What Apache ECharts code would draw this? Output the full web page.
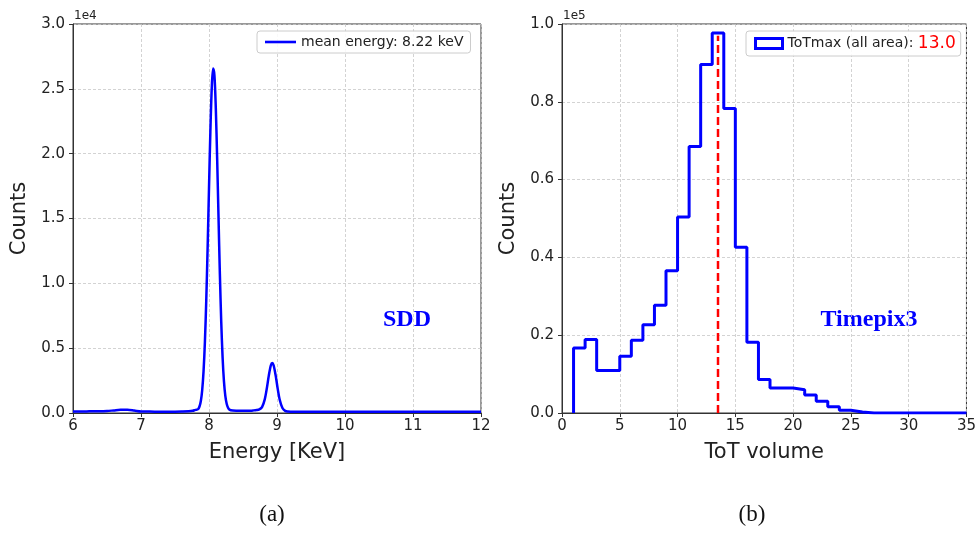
<!DOCTYPE html>
<html>
<head>
<meta charset="utf-8">
<script src="https://cdn.jsdelivr.net/npm/echarts@6/dist/echarts.min.js"></script>
<style>html,body{margin:0;padding:0;background:#fff;}#c{width:979px;height:535px;}</style>
</head>
<body>
<div id="c"></div>
<script>
// ---- Panel (a): SDD spectrum ----
const energy = [
  6.0, 6.1, 6.2, 6.3, 6.4, 6.5, 6.6, 6.7, 6.8, 6.9,
  7.0, 7.1, 7.2, 7.3, 7.4, 7.5, 7.6, 7.7, 7.76, 7.80,
  7.84, 7.86, 7.88, 7.90, 7.92, 7.94, 7.96, 7.98, 8.00, 8.02,
  8.04, 8.06, 8.08, 8.10, 8.12, 8.14, 8.16, 8.18, 8.20, 8.22,
  8.24, 8.26, 8.28, 8.30, 8.35, 8.40, 8.45, 8.50, 8.55, 8.60,
  8.65, 8.70, 8.74, 8.78, 8.82, 8.85, 8.88, 8.91, 8.93, 8.95,
  8.98, 9.01, 9.04, 9.08, 9.12, 9.16, 9.20, 9.3, 9.4, 9.6,
  9.8, 10.0, 10.5, 11.0, 11.5, 12.0
];
const counts = [
  110, 110, 120, 140, 130, 150, 200, 250, 250, 190,
  120, 110, 100, 100, 100, 100, 110, 130, 170, 240,
  300, 500, 930, 1770, 3230, 5510, 8740, 12800, 17350, 21680,
  24990, 26560, 26030, 23510, 19600, 15070, 10690, 7020, 4280, 2440,
  1320, 710, 400, 260, 190, 180, 180, 170, 170, 180,
  200, 230, 280, 450, 1050, 1890, 2900, 3680, 3850, 3680,
  2900, 1880, 1020, 380, 160, 110, 100, 100, 100, 100,
  100, 100, 90, 90, 90, 90
];
const legendA = 'mean energy: 8.22 keV';
const xTicksA = [6, 12, 1];      // min, max, interval
const yTicksA = [0, 30000, 5000];

// ---- Panel (b): Timepix3 ToT histogram ----
const binStart = 1;
const binValues = [
  16700, 18900, 10900, 10900, 14600, 18700, 22700, 27700, 36600, 50400,
  68500, 89600, 97700, 78300, 42600, 18200, 8600, 6400, 6400, 6000,
  4600, 3000, 1600, 700, 250, 0, 0, 0, 0, 0,
  0, 0, 0, 0
];
const totMaxLine = 13.5;
const totMaxLineTop = 97000;
const legendB = 'ToTmax (all area)';
const legendBValue = '13.0';
const xTicksB = [0, 35, 5];
const yTicksB = [0, 100000, 20000];

// build data pairs
const spectrum = energy.map((e, i) => [e, counts[i]]);
const hist = [[binStart, 0]];
binValues.forEach((v, i) => hist.push([binStart + i, v]));
hist.push([binStart + binValues.length, binValues[binValues.length - 1]]);

const AX = '#333';
const TXT = '#222';
const FONT = 'DejaVu Sans';
const BLUE = '#0000ff';

function xAxis(gi, t, name) {
  return {
    gridIndex: gi, type: 'value', min: t[0], max: t[1], interval: t[2],
    name: name, nameLocation: 'middle', nameGap: 29,
    nameTextStyle: { fontFamily: FONT, fontSize: 21, color: TXT },
    axisLine: { show: true, onZero: false, lineStyle: { color: AX, width: 1 } },
    axisTick: { show: true, inside: false, length: 4, lineStyle: { color: AX } },
    axisLabel: { margin: 6, fontFamily: FONT, fontSize: 15, color: TXT },
    splitLine: { show: true, lineStyle: { color: '#c8c8c8', type: [3, 2], width: 0.8 } }
  };
}
function yAxis(gi, t, div) {
  return {
    gridIndex: gi, type: 'value', min: t[0], max: t[1], interval: t[2],
    name: 'Counts', nameLocation: 'middle', nameGap: 43, nameRotate: 90,
    nameTextStyle: { fontFamily: FONT, fontSize: 21, color: TXT },
    axisLine: { show: true, lineStyle: { color: AX, width: 1 } },
    axisTick: { show: true, inside: false, length: 4, lineStyle: { color: AX } },
    axisLabel: { margin: 8, fontFamily: FONT, fontSize: 15, color: TXT,
      formatter: v => (v / div).toFixed(1) },
    splitLine: { show: true, lineStyle: { color: '#c8c8c8', type: [3, 2], width: 0.8 } }
  };
}

const chart = echarts.init(document.getElementById('c'), null, { renderer: 'canvas' });
chart.setOption({
  backgroundColor: '#fff',
  animation: false,
  grid: [
    { left: 73, right: 498, top: 24, bottom: 122, show: true, borderColor: AX, borderWidth: 1, backgroundColor: 'transparent' },
    { left: 562, right: 9, top: 24, bottom: 122, show: true, borderColor: AX, borderWidth: 1, backgroundColor: 'transparent' }
  ],
  xAxis: [xAxis(0, xTicksA, 'Energy [KeV]'), xAxis(1, xTicksB, 'ToT volume')],
  yAxis: [yAxis(0, yTicksA, 1e4), yAxis(1, yTicksB, 1e5)],
  legend: [
    {
      left: 257, top: 31, orient: 'horizontal',
      data: [{ name: legendA, icon: 'path://M0,0L31,0L31,2.6L0,2.6Z',
        itemStyle: { color: BLUE } }],
      symbolKeepAspect: true,
      itemWidth: 31, itemHeight: 12, itemGap: 8,
      padding: [4, 7, 4, 8],
      backgroundColor: 'rgba(255,255,255,0.85)', borderColor: '#cccccc', borderWidth: 1, borderRadius: 3,
      textStyle: { fontFamily: FONT, fontSize: 14, color: TXT },
      selectedMode: false
    },
    {
      left: 746, top: 31, orient: 'horizontal',
      data: [{ name: legendB, icon: 'rect',
        itemStyle: { color: '#ffffff', borderColor: BLUE, borderWidth: 3 } }],
      itemWidth: 27, itemHeight: 10, itemGap: 8,
      padding: [4, 5, 4, 8],
      backgroundColor: 'rgba(255,255,255,0.85)', borderColor: '#cccccc', borderWidth: 1, borderRadius: 3,
      formatter: n => '{a|' + n + ': }{b|' + legendBValue + '}',
      textStyle: { fontFamily: FONT, fontSize: 14, color: TXT,
        rich: { a: { fontFamily: FONT, fontSize: 14, color: TXT },
                b: { fontFamily: FONT, fontSize: 17, color: '#ff0000' } } },
      selectedMode: false
    }
  ],
  series: [
    {
      name: legendA, type: 'line', xAxisIndex: 0, yAxisIndex: 0,
      data: spectrum, symbol: 'none', smooth: 0.3,
      lineStyle: { color: BLUE, width: 2.5 }, itemStyle: { color: BLUE },
      clip: true
    },
    {
      name: legendB, type: 'line', xAxisIndex: 1, yAxisIndex: 1,
      data: hist, step: 'end', symbol: 'none',
      lineStyle: { color: BLUE, width: 3 }, itemStyle: { color: BLUE }
    },
    {
      name: 'ToTmax line', type: 'line', xAxisIndex: 1, yAxisIndex: 1,
      data: [[totMaxLine, 0], [totMaxLine, totMaxLineTop]], symbol: 'none',
      lineStyle: { color: '#ff0000', width: 2.5, type: [8, 4] }, z: 5
    }
  ],
  graphic: [
    { type: 'text', x: 74, y: 16, style: { text: '1e4', fill: TXT, font: '12px "DejaVu Sans"', align: 'left', verticalAlign: 'middle' } },
    { type: 'text', x: 563, y: 16, style: { text: '1e5', fill: TXT, font: '12px "DejaVu Sans"', align: 'left', verticalAlign: 'middle' } },
    { type: 'text', x: 407, y: 320, style: { text: 'SDD', fill: BLUE, font: 'bold 24px "Liberation Serif"', align: 'center', verticalAlign: 'middle' } },
    { type: 'text', x: 869, y: 320, style: { text: 'Timepix3', fill: BLUE, font: 'bold 24px "Liberation Serif"', align: 'center', verticalAlign: 'middle' } },
    { type: 'text', x: 272, y: 515, style: { text: '(a)', fill: '#111', font: '23px "Liberation Serif"', align: 'center', verticalAlign: 'middle' } },
    { type: 'text', x: 752, y: 515, style: { text: '(b)', fill: '#111', font: '23px "Liberation Serif"', align: 'center', verticalAlign: 'middle' } }
  ]
});
</script>
</body>
</html>
